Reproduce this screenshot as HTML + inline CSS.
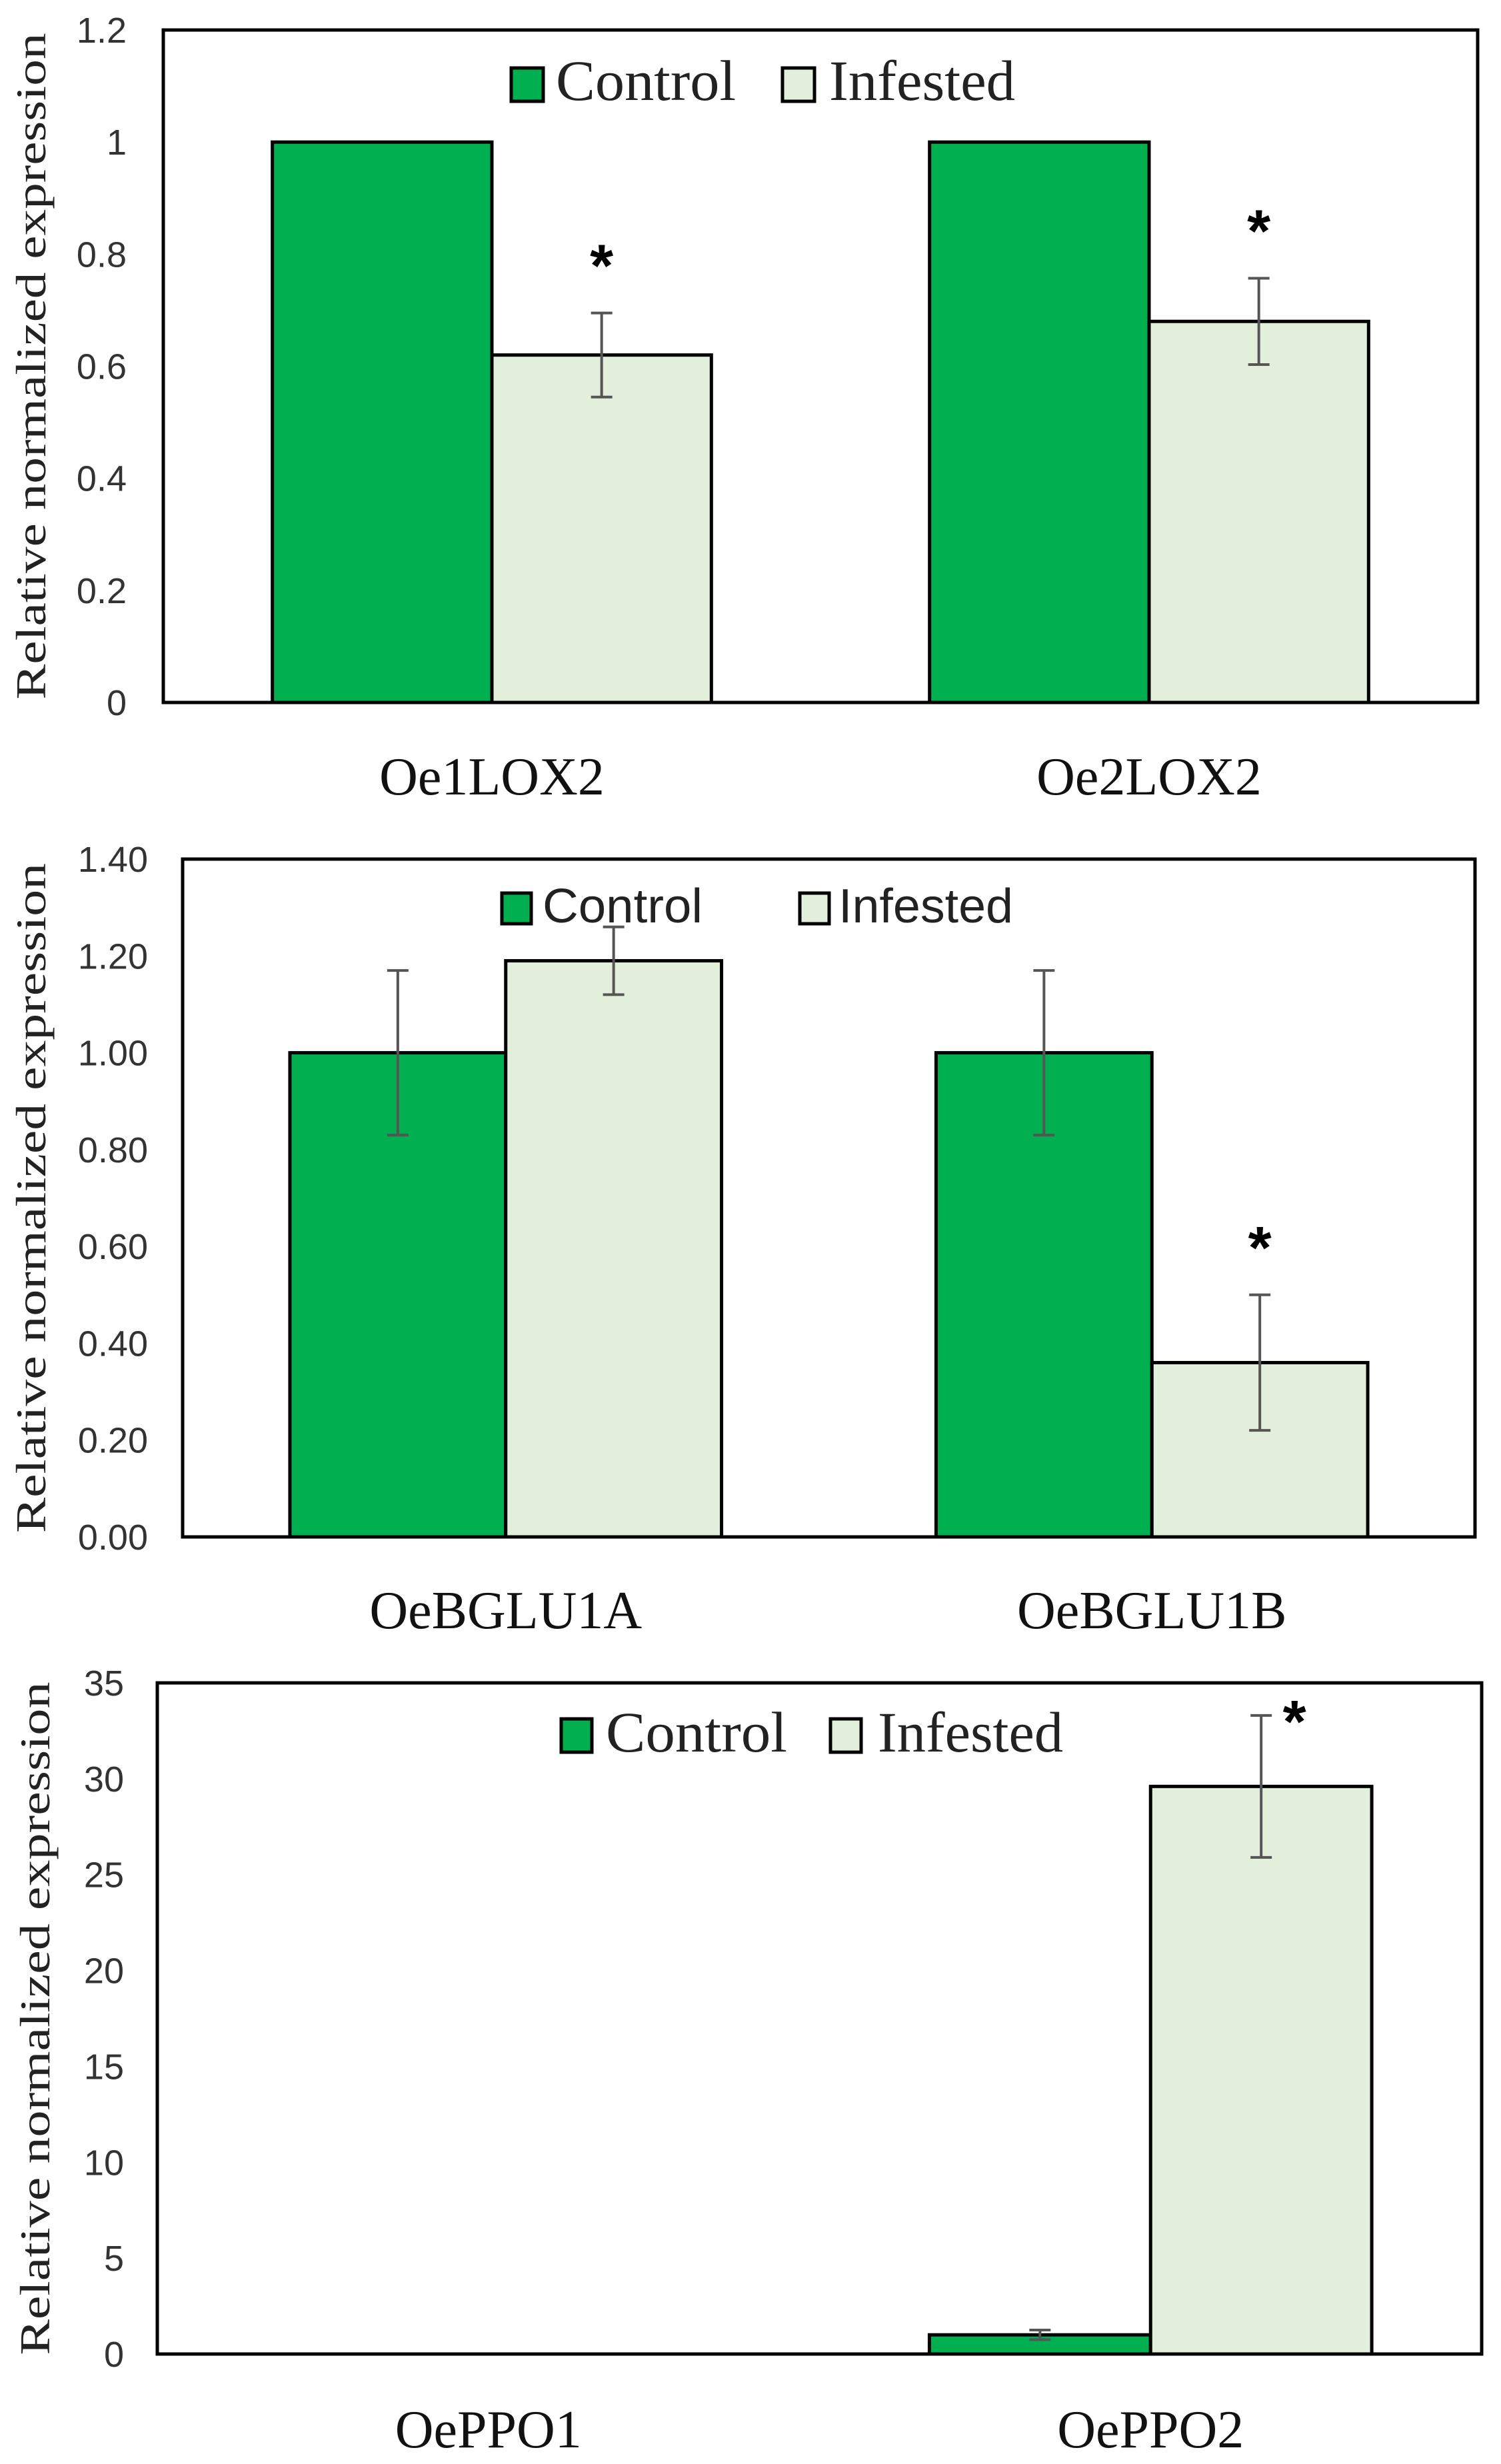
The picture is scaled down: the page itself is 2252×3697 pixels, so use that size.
<!DOCTYPE html>
<html><head><meta charset="utf-8"><style>
html,body{margin:0;padding:0;background:#fff;overflow:hidden;}
svg{display:block;}
</style></head><body>
<svg id="fig" width="2252" height="3697" viewBox="0 0 2252 3697" xmlns="http://www.w3.org/2000/svg"></svg>
<script>
// Panel A data
const catsA = ["Oe1LOX2", "Oe2LOX2"];
const controlA = [1.0, 1.0];
const controlErrA = [0.0, 0.0];
const infestedA = [0.62, 0.68];
const infestedErrA = [0.075, 0.077];
const starA = [false, true, false, true];
const ticksA = ["0", "0.2", "0.4", "0.6", "0.8", "1", "1.2"];
const tickValsA = [0, 0.2, 0.4, 0.6, 0.8, 1.0, 1.2];
// Panel B data
const catsB = ["OeBGLU1A", "OeBGLU1B"];
const controlB = [1.0, 1.0];
const controlErrB = [0.17, 0.17];
const infestedB = [1.19, 0.36];
const infestedErrB = [0.07, 0.14];
const starB = [false, false, false, true];
const ticksB = ["0.00", "0.20", "0.40", "0.60", "0.80", "1.00", "1.20", "1.40"];
const tickValsB = [0, 0.2, 0.4, 0.6, 0.8, 1.0, 1.2, 1.4];
// Panel C data
const catsC = ["OePPO1", "OePPO2"];
const controlC = [0, 1.0];
const controlErrC = [0, 0.25];
const infestedC = [0, 29.6];
const infestedErrC = [0, 3.7];
const starC = [false, false, false, true];
const ticksC = ["0", "5", "10", "15", "20", "25", "30", "35"];
const tickValsC = [0, 5, 10, 15, 20, 25, 30, 35];

const NS = "http://www.w3.org/2000/svg";
const svg = document.getElementById('fig');
function mk(tag, attrs, parent, text) {
  const e = document.createElementNS(NS, tag);
  for (const k in attrs) e.setAttribute(k, attrs[k]);
  if (text !== undefined) e.textContent = text;
  (parent || svg).appendChild(e);
  return e;
}
const SERIF = '"Liberation Serif", serif';
const SANS = '"Liberation Sans", sans-serif';

function panel(p) {
  const g = mk('g', {});
  
  
  const yScale = v => p.bottom - (v / p.ymax) * (p.bottom - p.top);
  const catW = (p.right - p.left) / p.cats.length;
  const xCenter = i => p.left + catW * (i + 0.5);
  const bw = catW * 0.334;
  const tx = p.tickRight;
  p.tickVals.forEach((tv, i) => {
    const t = mk('text', {x: tx, y: yScale(tv) + 19, 'text-anchor': 'end', 'font-family': SANS, 'font-size': p.tickSize, fill: '#333'}, g, p.ticks[i]);
    
    
  });
  const ty = (p.top + p.bottom) / 2;
  const yt = mk('text', {x: 0, y: 0, 'text-anchor': 'middle', 'font-family': SERIF, 'font-size': 64, fill: '#222', textLength: p.titleLen, lengthAdjust: 'spacingAndGlyphs', transform: `translate(${p.titleX},${ty}) rotate(-90)`}, g, 'Relative normalized expression');
  
  
  p.cats.forEach((c, i) => {
    const cx = xCenter(i);
    const series = [[p.ctrl[i], p.ctrlErr[i], '#00B050', cx - bw], [p.inf[i], p.infErr[i], '#E2EFDA', cx]];
    series.forEach((s, j) => {
      const v = s[0];
      if (v <= 0) return;
      const r = mk('rect', {x: s[3], y: yScale(v), width: bw, height: yScale(0) - yScale(v), fill: s[2], stroke: '#000', 'stroke-width': 5}, g);
      
      
    });
    series.forEach((s, j) => {
      const v = s[0], e = s[1];
      if (v <= 0 || e <= 0) return;
      const ex = s[3] + bw / 2;
      const eg = mk('g', {stroke: '#555', 'stroke-width': 4}, g);
      
      
      mk('line', {x1: ex, x2: ex, y1: yScale(v + e), y2: yScale(v - e)}, eg);
      mk('line', {x1: ex - 16, x2: ex + 16, y1: yScale(v + e), y2: yScale(v + e)}, eg);
      mk('line', {x1: ex - 16, x2: ex + 16, y1: yScale(v - e), y2: yScale(v - e)}, eg);
    });
    series.forEach((s, j) => {
      if (!p.star[i * 2 + j]) return;
      const ex = s[3] + bw / 2 + (p.starDx || 0);
      const st = mk('text', {x: ex, y: yScale(s[0] + s[1]) - p.starGap, 'text-anchor': 'middle', 'font-family': SANS, 'font-size': 90, 'font-weight': 'bold', fill: '#000'}, g, '*');
      
      
    });
    const lbl = mk('text', {x: cx, y: p.labelY, 'text-anchor': 'middle', 'font-family': SERIF, 'font-size': 80, fill: '#111'}, g, c);
    
    
  });
  const fr = mk('rect', {x: p.left, y: p.top, width: p.right - p.left, height: p.bottom - p.top, fill: 'none', stroke: '#000', 'stroke-width': 5}, g);
  
  
  const L = p.legend;
  const lg = mk('g', {}, g);
  
  
  const s1 = mk('rect', {x: L.c[0], y: L.y, width: L.sw, height: L.sh, fill: '#00B050', stroke: '#000', 'stroke-width': 5}, lg);
  
  
  const t1 = mk('text', {x: L.c[1], y: L.ty, 'font-family': L.font, 'font-size': L.fs, fill: '#222', textLength: L.c[2], lengthAdjust: 'spacingAndGlyphs'}, lg, 'Control');
  
  
  const s2 = mk('rect', {x: L.i[0], y: L.y, width: L.sw, height: L.sh, fill: '#E2EFDA', stroke: '#000', 'stroke-width': 5}, lg);
  
  
  const t2 = mk('text', {x: L.i[1], y: L.ty, 'font-family': L.font, 'font-size': L.fs, fill: '#222', textLength: L.i[2], lengthAdjust: 'spacingAndGlyphs'}, lg, 'Infested');
  
  
}

panel({name: 'panel-lox', left: 245, right: 2217, top: 45, bottom: 1054, ymax: 1.2,
  cats: catsA, ctrl: controlA, ctrlErr: controlErrA, inf: infestedA, infErr: infestedErrA, star: starA,
  ticks: ticksA, tickVals: tickValsA, tickSize: 54, tickRight: 190, titleX: 68, titleLen: 1000, labelY: 1192, starGap: 40,
  legend: {y: 102, sw: 48, sh: 50, ty: 150, fs: 86, font: SERIF, c: [767, 834, 270], i: [1174, 1244, 279]}});
panel({name: 'panel-bglu', left: 274, right: 2213, top: 1289, bottom: 2306, ymax: 1.4,
  cats: catsB, ctrl: controlB, ctrlErr: controlErrB, inf: infestedB, infErr: infestedErrB, star: starB,
  ticks: ticksB, tickVals: tickValsB, tickSize: 54, tickRight: 222, titleX: 68, titleLen: 1005, labelY: 2443, starGap: 40,
  legend: {y: 1340, sw: 44, sh: 46, ty: 1384, fs: 72, font: SANS, c: [753, 814, 240], i: [1200, 1258, 262]}});
panel({name: 'panel-ppo', left: 236, right: 2223, top: 2525, bottom: 3532, ymax: 35,
  cats: catsC, ctrl: controlC, ctrlErr: controlErrC, inf: infestedC, infErr: infestedErrC, star: starC,
  ticks: ticksC, tickVals: tickValsC, tickSize: 54, tickRight: 186, titleX: 74, titleLen: 1010, labelY: 3672, starGap: -40, starDx: 50,
  legend: {y: 2579, sw: 46, sh: 50, ty: 2628, fs: 86, font: SERIF, c: [842, 909, 272], i: [1246, 1317, 278]}});
</script>
</body></html>
